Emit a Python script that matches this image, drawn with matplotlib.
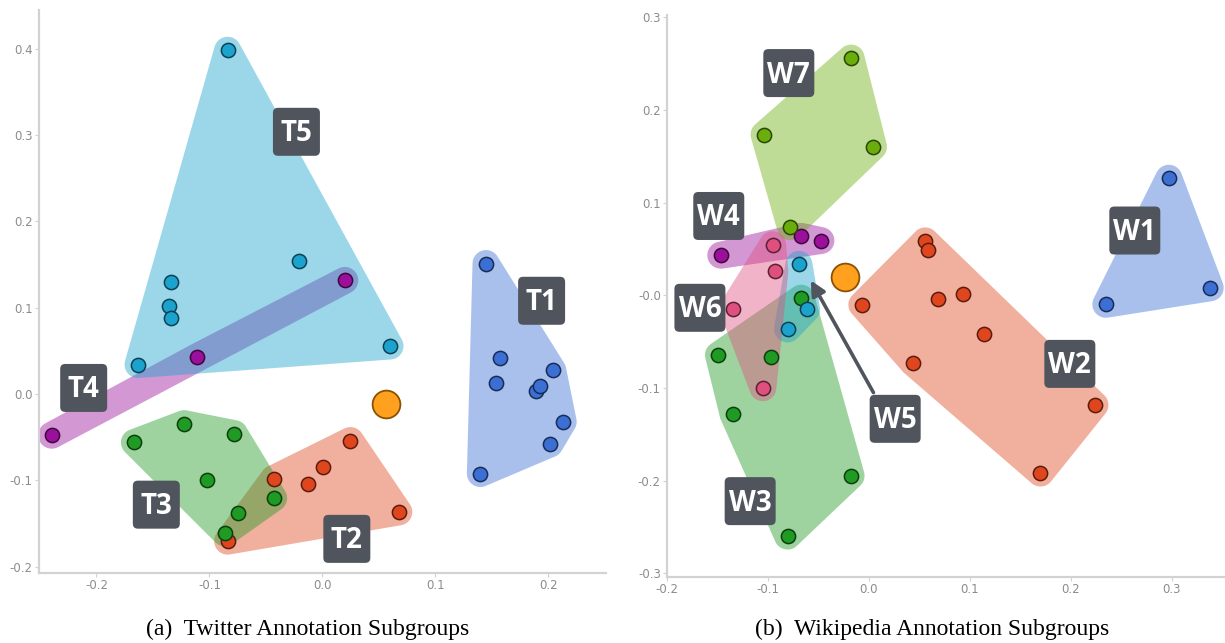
import numpy as np
import matplotlib
matplotlib.use("Agg")
import matplotlib.pyplot as plt
from matplotlib.patches import Polygon, FancyBboxPatch
from matplotlib.transforms import Affine2D, ScaledTranslation, offset_copy

# ---------------- Twitter annotation subgroups ----------------
tw_names = ["T1", "T2", "T3", "T4", "T5"]
tw_x = [
    [0.1448, 0.1568, 0.1540, 0.1887, 0.1922, 0.2039, 0.2131, 0.2014, 0.1398],
    [0.0248, 0.0004, -0.0131, -0.0432, 0.0676, -0.0839],
    [-0.1664, -0.1225, -0.0779, -0.1019, -0.0432, -0.0743, -0.0864],
    [0.0198, -0.1112, -0.2396],
    [-0.0839, -0.0209, -0.1338, -0.1356, -0.1338, -0.1632, 0.0598],
]
tw_y = [
    [0.1511, 0.0422, 0.0129, 0.0040, 0.0098, 0.0276, -0.0320, -0.0578, -0.0920],
    [-0.0538, -0.0840, -0.1040, -0.0978, -0.1364, -0.1702],
    [-0.0560, -0.0342, -0.0458, -0.1000, -0.1204, -0.1382, -0.1604],
    [0.1316, 0.0431, -0.0476],
    [0.3980, 0.1542, 0.1298, 0.1022, 0.0884, 0.0342, 0.0556],
]
tw_center = (0.0566, -0.0120)
tw_colors = ["#3b6fd4", "#e0461e", "#1f9a22", "#9a109a", "#1ba3cd"]
tw_label_pos = [(0.194, 0.108), (0.0216, -0.1676), (-0.147, -0.128),
                (-0.2113, 0.0071), (-0.023, 0.3036)]
tw_xticks = [-0.2, -0.1, 0.0, 0.1, 0.2]
tw_xticklabels = ["-0.2", "-0.1", "0.0", "0.1", "0.2"]
tw_yticks = [-0.2, -0.1, 0.0, 0.1, 0.2, 0.3, 0.4]
tw_yticklabels = ["-0.2", "-0.1", "0.0", "0.1", "0.2", "0.3", "0.4"]

# ---------------- Wikipedia annotation subgroups ----------------
wk_names = ["W1", "W2", "W3", "W4", "W5", "W6", "W7"]
wk_x = [
    [0.2973, 0.2349, 0.3383],
    [0.0559, 0.0590, -0.0069, 0.0686, 0.0935, 0.1146, 0.0441, 0.2241, 0.1701],
    [-0.0670, -0.1490, -0.0966, -0.1345, -0.0176, -0.0805],
    [-0.1467, -0.0670, -0.0475],
    [-0.0693, -0.0617, -0.0805],
    [-0.0954, -0.0931, -0.1349, -0.1050],
    [-0.0176, -0.1038, 0.0046, -0.0778],
]
wk_y = [
    [0.1263, -0.0097, 0.0081],
    [0.0587, 0.0491, -0.0102, -0.0035, 0.0019, -0.0413, -0.0732, -0.1184, -0.1918],
    [-0.0031, -0.0645, -0.0670, -0.1284, -0.1947, -0.2598],
    [0.0433, 0.0636, 0.0591],
    [0.0334, -0.0151, -0.0363],
    [0.0546, 0.0263, -0.0143, -0.0997],
    [0.2560, 0.1735, 0.1603, 0.0740],
]
wk_center = (-0.0234, 0.0197)
wk_colors = ["#3b6fd4", "#e0461e", "#1f9a22", "#9a109a", "#1ba3cd", "#e0507f", "#6aae0c"]
wk_label_pos = [(0.2636, 0.0699), (0.1992, -0.0740), (-0.1176, -0.2221),
                (-0.1487, 0.0856), (0.0261, -0.1333), (-0.1674, -0.0135),
                (-0.0793, 0.2398)]
wk_arrow = {"W5": ((0.0046, -0.1050), (-0.0575, 0.0160))}
wk_xticks = [-0.2, -0.1, 0.0, 0.1, 0.2, 0.3]
wk_xticklabels = ["-0.2", "-0.1", "0.0", "0.1", "0.2", "0.3"]
wk_yticks = [-0.3, -0.2, -0.1, 0.0, 0.1, 0.2, 0.3]
wk_yticklabels = ["-0.3", "-0.2", "-0.1", "-0.0", "0.1", "0.2", "0.3"]

LABEL_BG = "#50555d"
HULL_ALPHA = 0.43
HULL_PAD_PX = 13.5
DPI = 100


def convex_hull(pts):
    pts = sorted(map(tuple, pts))
    if len(pts) <= 2:
        return np.array(pts)

    def cross(o, a, b):
        return (a[0] - o[0]) * (b[1] - o[1]) - (a[1] - o[1]) * (b[0] - o[0])

    lower, upper = [], []
    for p in pts:
        while len(lower) >= 2 and cross(lower[-2], lower[-1], p) <= 0:
            lower.pop()
        lower.append(p)
    for p in reversed(pts):
        while len(upper) >= 2 and cross(upper[-2], upper[-1], p) <= 0:
            upper.pop()
        upper.append(p)
    return np.array(lower[:-1] + upper[:-1])


def rounded_hull(ax, xs, ys, pad_px, n=40):
    disp = ax.transData.transform(np.column_stack([xs, ys]))
    ang = np.linspace(0, 2 * np.pi, n, endpoint=False)
    ring = np.column_stack([np.cos(ang), np.sin(ang)]) * pad_px
    cloud = (disp[:, None, :] + ring[None, :, :]).reshape(-1, 2)
    hull = convex_hull(cloud)
    return ax.transData.inverted().transform(hull)


def darken(c, f=0.45):
    rgb = np.array(matplotlib.colors.to_rgb(c))
    return tuple(rgb * f)


def style_axes(ax, xlim, ylim, xt, xtl, yt, ytl):
    ax.set_xlim(*xlim)
    ax.set_ylim(*ylim)
    for s in ("top", "right"):
        ax.spines[s].set_visible(False)
    for s in ("left", "bottom"):
        ax.spines[s].set_color("#d2d2d2")
        ax.spines[s].set_linewidth(1.6)
    ax.set_xticks(xt)
    ax.set_xticklabels(xtl)
    ax.set_yticks(yt)
    ax.set_yticklabels(ytl)
    ax.tick_params(axis="both", colors="#d2d2d2", labelcolor="#8c8c8c",
                   labelsize=8.5, length=3, width=0.8, pad=1.5)
    ax.set_facecolor("white")


def label_box(ax, fig, x, y, name, box_w, box_h=48):
    # fixed-size dark box (in pixels) centred on a data position
    place = Affine2D() + ScaledTranslation(x, y, ax.transData)
    ax.add_patch(FancyBboxPatch((-box_w / 2, -box_h / 2), box_w, box_h,
                                boxstyle="round,pad=0,rounding_size=5",
                                facecolor=LABEL_BG, edgecolor="none",
                                transform=place, zorder=5, clip_on=False))
    cap_px = 19.0
    tr = offset_copy(ax.transData, fig=fig, x=0, y=-cap_px / 2, units="dots")
    ax.text(x, y, name, ha="center", va="baseline", color="white",
            fontsize=20, fontweight="bold", family="Open Sans", zorder=6,
            transform=tr)


def draw_panel(fig, ax, names, xs, ys, colors, label_pos, center, box_w,
               arrows=None):
    # hulls first, later groups on top
    for gx, gy, col in zip(xs, ys, colors):
        poly = rounded_hull(ax, gx, gy, HULL_PAD_PX)
        ax.add_patch(Polygon(poly, closed=True, facecolor=col,
                             alpha=HULL_ALPHA, edgecolor="none", zorder=1))
    for gx, gy, col in zip(xs, ys, colors):
        ax.scatter(gx, gy, s=105, color=col, edgecolors=[darken(col, 0.4)],
                   linewidths=1.1, zorder=3)
    ax.scatter([center[0]], [center[1]], s=400, color="#ffa11e",
               edgecolors=["#8a5200"], linewidths=1.3, zorder=3)
    if arrows:
        for name, (start, tip) in arrows.items():
            ax.annotate("", xy=tip, xytext=start,
                        arrowprops=dict(arrowstyle="-|>", color=LABEL_BG,
                                        lw=2.6, mutation_scale=22,
                                        shrinkA=0, shrinkB=0),
                        zorder=4)
    for name, (lx, ly) in zip(names, label_pos):
        label_box(ax, fig, lx, ly, name, box_w)


fig = plt.figure(figsize=(12.25, 6.43), dpi=DPI)

ax1 = fig.add_axes([0.0317, 0.109, 0.4630, 0.876])
style_axes(ax1, (-0.251, 0.251), (-0.207, 0.445),
           tw_xticks, tw_xticklabels, tw_yticks, tw_yticklabels)
draw_panel(fig, ax1, tw_names, tw_x, tw_y, tw_colors, tw_label_pos,
           tw_center, box_w=47)

ax2 = fig.add_axes([0.5445, 0.1026, 0.4547, 0.8734])
style_axes(ax2, (-0.2, 0.352), (-0.304, 0.302),
           wk_xticks, wk_xticklabels, wk_yticks, wk_yticklabels)
draw_panel(fig, ax2, wk_names, wk_x, wk_y, wk_colors, wk_label_pos,
           wk_center, box_w=51, arrows=wk_arrow)

fig.text(0.2514, 0.021, "(a)  Twitter Annotation Subgroups", ha="center",
         va="center", family="Liberation Serif", fontsize=17)
fig.text(0.761, 0.021, "(b)  Wikipedia Annotation Subgroups", ha="center",
         va="center", family="Liberation Serif", fontsize=17)

fig.savefig("out.png", dpi=DPI, facecolor="white")
